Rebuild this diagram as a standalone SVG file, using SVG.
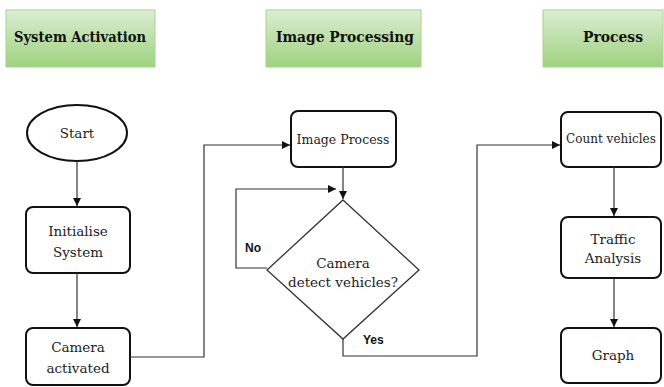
<svg xmlns="http://www.w3.org/2000/svg" width="664" height="387" viewBox="0 0 664 387">
<defs>
<linearGradient id="hg" x1="0" y1="0" x2="0" y2="1">
<stop offset="0" stop-color="#dcedd3"/>
<stop offset="1" stop-color="#9ed27f"/>
</linearGradient>
<marker id="arr" markerWidth="10" markerHeight="10" refX="9" refY="5" orient="auto" markerUnits="userSpaceOnUse">
<path d="M1,1 L9,5 L1,9 z" fill="#111"/>
</marker>
<style>
.hdr{fill:url(#hg);stroke:#a9d28f;stroke-width:1}
.htxt{font-family:"DejaVu Serif","Liberation Serif",serif;font-weight:bold;font-size:15px;font-stretch:condensed;fill:#111;text-anchor:middle}
.box{fill:#fff;stroke:#111;stroke-width:2}
.ntxt{font-family:"DejaVu Serif","Liberation Serif",serif;font-size:13.5px;fill:#222;text-anchor:middle}
.sm{font-size:12.5px}
.xs{font-size:12px}
.lbl{font-family:"Liberation Sans",Arial,sans-serif;font-weight:bold;font-size:12px;fill:#111}
.con{fill:none;stroke:#333;stroke-width:1.2}
</style>
</defs>
<rect width="664" height="387" fill="#fff"/>
<g id="hdr-system">
<rect class="hdr" x="6" y="10" width="149" height="57"/>
<text class="htxt" x="80" y="42" textLength="132" lengthAdjust="spacingAndGlyphs">System Activation</text>
</g>
<g id="hdr-image">
<rect class="hdr" x="266" y="10" width="155" height="57"/>
<text class="htxt" x="345" y="42" textLength="138" lengthAdjust="spacingAndGlyphs">Image Processing</text>
</g>
<g id="hdr-process">
<rect class="hdr" x="543" y="10" width="120" height="57"/>
<text class="htxt" x="613" y="42" textLength="60" lengthAdjust="spacingAndGlyphs">Process</text>
</g>
<g id="start">
<ellipse class="box" cx="77" cy="133" rx="50" ry="28"/>
<text class="ntxt" x="77" y="138">Start</text>
</g>
<g id="init">
<rect class="box" x="26" y="207" width="104" height="66" rx="7"/>
<text class="ntxt" x="78" y="236">Initialise</text>
<text class="ntxt" x="78" y="257">System</text>
</g>
<g id="camera">
<rect class="box" x="26" y="328" width="104" height="57" rx="7"/>
<text class="ntxt" x="78" y="352">Camera</text>
<text class="ntxt" x="78" y="373">activated</text>
</g>
<g id="imgproc">
<rect class="box" x="291" y="111" width="105" height="56" rx="7"/>
<text class="ntxt sm" x="343" y="144">Image Process</text>
</g>
<g id="decision">
<polygon points="343,200 419,270 343,339 267,270" fill="#fff" stroke="#333" stroke-width="1.3"/>
<text class="ntxt" x="343" y="268">Camera</text>
<text class="ntxt" x="343" y="287">detect vehicles?</text>
</g>
<g id="count">
<rect class="box" x="561" y="112" width="100" height="55" rx="7"/>
<text class="ntxt xs" x="611" y="143">Count vehicles</text>
</g>
<g id="traffic">
<rect class="box" x="561" y="217" width="100" height="61" rx="7"/>
<text class="ntxt" x="613" y="244">Traffic</text>
<text class="ntxt" x="613" y="263">Analysis</text>
</g>
<g id="graph">
<rect class="box" x="561" y="328" width="100" height="55" rx="7"/>
<text class="ntxt" x="613" y="360">Graph</text>
</g>
<g id="connectors">
<path class="con" d="M77,161 V206" marker-end="url(#arr)"/>
<path class="con" d="M77,273 V327" marker-end="url(#arr)"/>
<path class="con" d="M130,357 H204 V145 H290" marker-end="url(#arr)"/>
<path class="con" d="M343,167 V199" marker-end="url(#arr)"/>
<path class="con" d="M267,268 H236 V189 H336" marker-end="url(#arr)"/>
<path class="con" d="M343,339 V356 H477 V145 H560" marker-end="url(#arr)"/>
<path class="con" d="M614,167 V216" marker-end="url(#arr)"/>
<path class="con" d="M614,278 V327" marker-end="url(#arr)"/>
<text class="lbl" x="245" y="252">No</text>
<text class="lbl" x="363" y="344">Yes</text>
</g>
</svg>
